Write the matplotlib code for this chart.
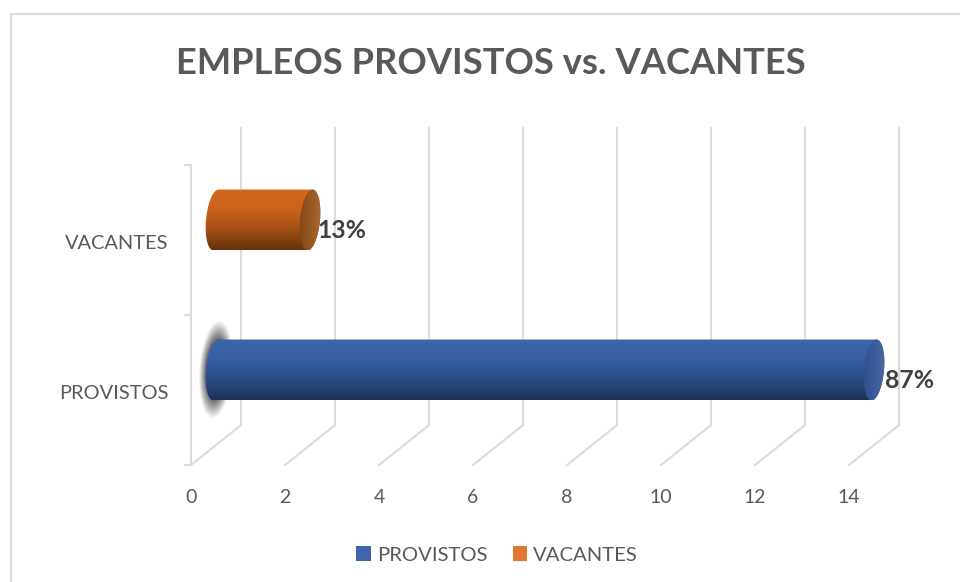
import matplotlib
matplotlib.use("Agg")
import matplotlib.pyplot as plt
import numpy as np
from matplotlib.colors import LinearSegmentedColormap, to_rgb
from matplotlib.lines import Line2D
from matplotlib.patches import Rectangle
from matplotlib.path import Path
from matplotlib.transforms import Affine2D

categories = ["PROVISTOS", "VACANTES"]
values = [14, 2]
labels = ["87%", "13%"]
x_ticks = [0, 2, 4, 6, 8, 10, 12, 14]

TEXT = "#595959"
GRID = "#dcdcdc"
BODY = {
    "PROVISTOS": ["#3d65ab", "#375fa3", "#2b4c85", "#1d3157"],
    "VACANTES": ["#d2681f", "#cc631c", "#a34f15", "#64330e"],
}
CAP = {
    "PROVISTOS": ["#2c4d8c", "#3a5c9c", "#4d6a9c"],
    "VACANTES": ["#7d4517", "#96561f", "#ae6c3e"],
}
LEGEND = {"PROVISTOS": "#3f66ad", "VACANTES": "#e0782f"}
LABEL_DX = {"PROVISTOS": 11, "VACANTES": 7}

plt.rcParams["font.family"] = ["Lato", "DejaVu Sans"]

W, H = 960, 582
fig = plt.figure(figsize=(W / 100, H / 100), dpi=100, facecolor="white")
ax = fig.add_axes([191 / W, (H - 465) / H, 658 / W, 300 / H])
ax.set_facecolor("none")
ax.set_xlim(0, 14)
ax.set_ylim(-0.5, 1.5)

# depth of the fake 3d box, in pixels
wall = ax.transData + Affine2D().translate(50, 40)
mid = ax.transData + Affine2D().translate(25, 20)

for x in x_ticks:
    ax.plot([x, x], [-0.5, 1.48], color=GRID, lw=1.5, transform=wall, clip_on=False, zorder=1)
    ax.plot([x, x + 50 / 47], [-0.5, -0.5 + 40 / 150], color=GRID, lw=1.5, clip_on=False, zorder=1)


def gradient_image(colors, horizontal=False):
    cmap = LinearSegmentedColormap.from_list("g", colors)
    g = np.linspace(0, 1, 256)
    return cmap(g[None, :] if horizontal else g[:, None])


hx = 10 / 47  # half width of the end ellipse
hy = 0.203    # half height of the bar
shear = 0.27
t = np.linspace(0, 2 * np.pi, 80)

for i, (cat, val, lab) in enumerate(zip(categories, values, labels)):
    # soft shadow behind the left end of the long bar
    if cat == "PROVISTOS":
        yy, xx = np.mgrid[-1:1:120j, -1:1:60j]
        xx = xx - 0.2 * yy
        d = np.sqrt(xx ** 2 + yy ** 2)
        blob = np.zeros((120, 60, 4))
        blob[..., :3] = to_rgb("#404040")
        blob[..., 3] = np.clip((1 - d) * 2.0, 0, 1)
        im = ax.imshow(blob, extent=(-0.36, 0.36, i - 0.33, i + 0.33), aspect="auto",
                       origin="lower", transform=mid, zorder=2, interpolation="bilinear")
        im.set_clip_box(fig.bbox)
        im.set_clip_path(None)
        im.set_clip_on(False)

    # cylinder body
    tl = np.linspace(np.pi / 2, 3 * np.pi / 2, 40)
    tr = np.linspace(-np.pi / 2, np.pi / 2, 40)
    left_x = hx * np.cos(tl) + shear * hy * np.sin(tl)
    left_y = i + hy * np.sin(tl)
    right_x = val + hx * np.cos(tr) + shear * hy * np.sin(tr)
    right_y = i + hy * np.sin(tr)
    outline = np.column_stack([np.r_[left_x, right_x], np.r_[left_y, right_y]])
    path = Path(np.vstack([outline, outline[0]]), closed=True)
    im = ax.imshow(gradient_image(BODY[cat]), extent=(-0.4, val + 0.4, i - hy, i + hy), aspect="auto",
                   origin="upper", transform=mid, zorder=3)
    im.set_clip_box(fig.bbox)
    im.set_clip_path(path, mid)

    # lit end of the cylinder
    cap = Path(np.column_stack([val + hx * np.cos(t) + shear * hy * np.sin(t), i + hy * np.sin(t)]), closed=True)
    im = ax.imshow(gradient_image(CAP[cat], True), extent=(val - hx - 0.06, val + hx + 0.06, i - hy, i + hy),
                   aspect="auto", origin="upper", transform=mid, zorder=4)
    im.set_clip_box(fig.bbox)
    im.set_clip_path(cap, mid)

    ax.annotate(lab, xy=(val, i), xycoords=mid, xytext=(LABEL_DX[cat], -10), textcoords="offset pixels",
                fontsize=17.8, fontweight="bold", color="#404040", va="center", ha="left",
                annotation_clip=False, zorder=5)

ax.set_xlim(0, 14)
ax.set_ylim(-0.5, 1.5)

for s in ["top", "right", "bottom"]:
    ax.spines[s].set_visible(False)
ax.spines["left"].set_color(GRID)
ax.spines["left"].set_linewidth(1.5)
ax.set_xticks(x_ticks)
ax.tick_params(axis="x", length=0, pad=17.5, labelsize=14, labelcolor=TEXT)
ax.set_yticks(range(len(categories)), categories)
ax.tick_params(axis="y", length=0, pad=16, labelsize=14.4, labelcolor=TEXT)
ax.set_yticks([-0.5, 0.5, 1.5], minor=True)
ax.tick_params(axis="y", which="minor", length=5, width=1.5, color=GRID)
for tick_label in ax.get_yticklabels():
    tick_label.set_transform(tick_label.get_transform() + Affine2D().translate(0, -2))

fig.text(491 / W, 1 - 64 / H, "EMPLEOS PROVISTOS vs. VACANTES", fontsize=26.2, fontweight="bold",
         color=TEXT, ha="center", va="center")

# chart area border
fig.add_artist(Line2D([11 / W, 11 / W], [0, 1 - 14 / H], color=GRID, lw=1.5))
fig.add_artist(Line2D([11 / W, 960 / W], [1 - 14 / H, 1 - 14 / H], color=GRID, lw=1.5))

handles = [Rectangle((0, 0), 1, 1, facecolor=LEGEND[c], edgecolor="none") for c in categories]
fig.legend(handles, categories, loc="center", bbox_to_anchor=(497 / W, 1 - 555 / H), ncol=2, frameon=False,
           fontsize=14.6, labelcolor=TEXT, handlelength=0.7, handleheight=0.7, handletextpad=0.3, columnspacing=1.25)

fig.savefig("out.png", dpi=100)
plt.close(fig)
